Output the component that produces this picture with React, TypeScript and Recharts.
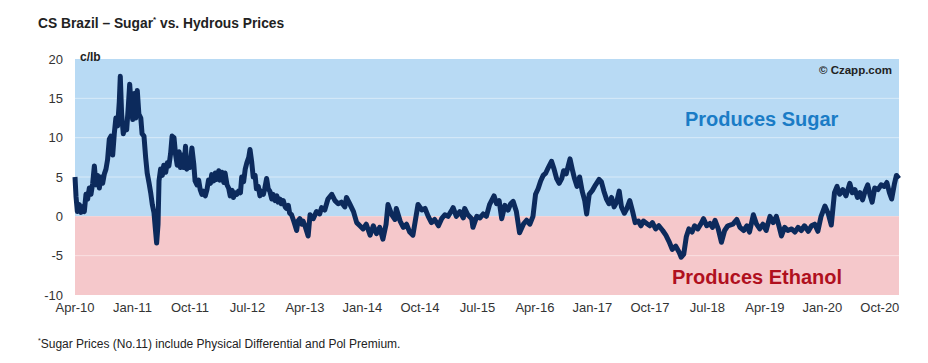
import React from "react"
import { LineChart, Line, XAxis, YAxis, ReferenceArea, ReferenceLine } from "recharts"

// month offsets from Apr-10 (fractional, weekly-ish reads) and sugar-minus-hydrous spread in c/lb
const monthIdx = [
  0, 0.16, 0.37, 0.68, 0.94, 1.2, 1.46, 1.72, 1.98, 2.24, 2.5, 2.77, 3.03, 3.29, 3.55, 3.81, 4.07, 4.33, 4.6, 4.85,
  5.1, 5.37, 5.63, 5.9, 6.15, 6.4, 6.68, 6.93, 7.09, 7.3, 7.56, 7.82, 8.09, 8.35, 8.56, 8.76, 9.03, 9.28, 9.5, 9.75,
  10.0, 10.3, 10.5, 10.8, 11.06, 11.3, 11.6, 11.85, 12.1, 12.36, 12.57, 12.78, 13.0, 13.15, 13.4, 13.67, 13.9, 14.2, 14.45, 14.7,
  14.97, 15.2, 15.5, 15.75, 16.0, 16.3, 16.5, 16.8, 17.06, 17.3, 17.5, 17.8, 18.0, 18.3, 18.6, 18.8, 19.1, 19.36, 19.6, 19.87,
  20.1, 20.4, 20.66, 20.9, 21.2, 21.4, 21.7, 21.96, 22.2, 22.5, 22.7, 23.0, 23.3, 23.5, 23.8, 24.05, 24.3, 24.6, 24.8, 25.1,
  25.35, 25.6, 25.9, 26.1, 26.4, 26.65, 26.9, 27.2, 27.4, 27.65, 27.9, 28.2, 28.4, 28.7, 28.95, 29.2, 29.5, 29.7, 30.0, 30.25,
  30.5, 30.8, 31.0, 31.3, 31.6, 31.8, 32.1, 32.3, 32.6, 32.9, 33.1, 33.4, 33.6, 33.9, 34.2, 34.4, 34.7, 34.9, 35.2, 35.5,
  35.7, 36.0, 36.5, 36.8, 37.3, 37.8, 38.3, 38.6, 39.1, 39.6, 40.2, 40.7, 41.2, 41.7, 42.25, 42.5, 43.0, 43.6, 44.1, 44.6,
  45.1, 45.6, 46.2, 46.7, 47.2, 47.7, 48.2, 48.7, 49.0, 49.6, 50.1, 50.3, 50.9, 51.4, 51.9, 52.4, 52.9, 53.7, 54.3, 54.8,
  55.3, 55.8, 56.3, 56.9, 57.4, 57.9, 58.4, 59.0, 59.2, 59.7, 60.25, 60.8, 61.0, 61.5, 62.1, 62.3, 62.9, 63.4, 63.9, 64.4,
  64.9, 65.6, 66.0, 66.4, 66.8, 67.3, 67.8, 68.2, 68.6, 69.1, 69.6, 70.2, 70.7, 71.2, 71.7, 72.1, 72.5, 72.9, 73.3, 73.7,
  74.1, 74.6, 75.0, 75.4, 75.8, 76.2, 76.5, 76.9, 77.5, 77.9, 78.2, 78.6, 79.0, 79.4, 79.8, 80.1, 80.5, 81.0, 81.5, 82.05,
  82.4, 82.8, 83.2, 83.6, 84.0, 84.4, 84.8, 85.2, 85.55, 86.0, 86.4, 86.85, 87.3, 87.7, 88.2, 88.6, 89.0, 89.5, 90.0, 90.4,
  90.9, 91.4, 92.0, 92.5, 93.0, 93.5, 94.05, 94.6, 94.9, 95.3, 95.7, 96.1, 96.6, 97.0, 97.5, 98.1, 98.4, 98.9, 99.4, 99.8,
  100.2, 100.7, 101.2, 101.7, 102.2, 103.0, 103.6, 104.1, 104.7, 105.2, 105.6, 106.2, 106.7, 107.2, 107.7, 108.2, 108.8, 109.3, 109.8, 110.2,
  110.6, 111.1, 111.6, 112.2, 112.7, 113.2, 113.7, 114.2, 114.8, 115.3, 115.8, 116.3, 116.8, 117.4, 117.9, 118.4, 118.9, 119.3, 119.7, 120.2,
  120.7, 121.3, 121.7, 122.1, 122.5, 122.9, 123.3, 123.7, 124.1, 124.5, 124.8, 125.2, 125.7, 126.2, 126.7, 127.1, 127.5, 127.85, 128.3, 128.6,
  129.0,
]

const spread = [
  5.0, 2.5, 0.6, 1.5, 0.5, 1.2, 0.6, 2.8, 2.2, 3.6, 2.8, 4.2, 6.4, 4.0, 5.2, 3.6, 5.0, 4.2, 5.4, 6.0,
  7.2, 9.8, 10.2, 7.8, 10.5, 12.5, 11.5, 14.5, 17.8, 13.0, 10.5, 11.5, 11.0, 14.0, 16.8, 14.5, 12.3, 15.6, 12.5, 16.0,
  13.0, 12.5, 10.5, 10.2, 7.5, 5.5, 4.2, 3.0, 1.5, 0.5, -1.5, -3.4, -1.0, 4.5, 6.0, 5.2, 6.5, 5.6, 6.8, 6.4,
  8.0, 10.2, 10.0, 7.8, 6.5, 8.2, 6.2, 7.8, 6.2, 8.9, 6.0, 7.4, 6.2, 8.7, 6.6, 4.5, 4.0, 4.6, 3.4, 2.8,
  3.2, 2.6, 3.4, 4.6, 4.2, 5.3, 4.5, 5.5, 4.7, 5.8, 4.6, 5.6, 4.3, 5.5, 4.0, 3.6, 2.6, 3.3, 2.4, 3.0,
  2.8, 3.2, 3.0, 5.0, 4.4, 6.0, 6.8, 7.5, 8.5, 7.0, 5.0, 5.2, 3.5, 3.8, 2.6, 3.2, 2.8, 3.5, 4.8, 3.5,
  3.2, 2.2, 2.8, 2.0, 2.6, 1.8, 2.2, 1.6, 2.0, 1.2, 1.0, 1.4, 0.4, 0.2, -0.5, -1.0, -1.8, -0.6, -0.3, -1.0,
  -0.6, -1.2, -2.5, 0.2, -0.3, 0.6, 0.3, 1.1, 0.8, 2.2, 2.8, 2.0, 1.6, 1.8, 1.2, 2.4, 1.6, 0.6, -0.8, -1.2,
  -1.6, -1.0, -2.4, -1.2, -2.2, -1.4, -2.9, -1.0, 1.5, 0.2, -0.4, 1.0, -0.6, -1.4, -1.0, -2.0, -2.4, 1.5, 0.8, 1.0,
  0.0, -0.8, -0.4, -1.2, -0.3, 0.2, 0.0, 0.8, 1.1, 0.0, 0.6, -0.2, 1.0, 0.2, -0.3, -1.4, 0.0, -0.2, 0.3, 0.0,
  1.5, 2.6, 1.6, 2.0, -0.3, 1.4, 0.8, 1.6, 1.9, 0.6, -2.1, -1.0, -0.5, -1.0, 0.0, 2.8, 3.5, 4.5, 5.2, 5.5,
  6.2, 7.0, 6.0, 4.8, 4.2, 4.8, 5.8, 5.4, 7.3, 5.8, 4.8, 3.8, 5.0, 3.2, 2.0, 0.3, 2.8, 3.3, 4.0, 4.7,
  4.4, 3.2, 2.2, 1.6, 2.4, 1.2, 1.8, 3.2, 1.2, 0.4, 1.0, 2.0, 0.6, -0.8, -0.6, -1.2, -0.6, -0.9, -1.2, -0.8,
  -1.6, -1.2, -1.8, -2.4, -3.2, -4.2, -3.8, -4.6, -5.2, -4.8, -2.6, -1.6, -2.0, -1.2, -1.6, -0.8, -0.3, -1.2, -0.9, -1.4,
  -0.5, -1.6, -3.3, -1.8, -1.2, -1.0, -0.4, -1.4, -1.8, -1.2, -2.0, 0.2, -1.0, -1.6, -1.0, -1.8, 0.0, -0.8, 0.0, -1.2,
  -2.5, -1.4, -1.8, -1.6, -2.0, -1.4, -1.8, -1.2, -1.9, -1.2, -1.0, -1.9, 0.0, 1.3, 0.4, -1.1, 3.0, 3.8, 2.8, 3.4,
  2.6, 4.2, 3.0, 3.4, 2.4, 3.0, 2.1, 3.2, 4.0, 2.6, 1.8, 3.6, 3.4, 4.0, 3.8, 4.3, 3.0, 2.2, 4.2, 5.2,
  4.8,
]

const xTickIdx = [0, 9, 18, 27, 36, 45, 54, 63, 72, 81, 90, 99, 108, 117, 126]
const xTickLabels = [
  "Apr-10", "Jan-11", "Oct-11", "Jul-12", "Apr-13", "Jan-14", "Oct-14", "Jul-15",
  "Apr-16", "Jan-17", "Oct-17", "Jul-18", "Apr-19", "Jan-20", "Oct-20",
]
const yTicks = [-10, -5, 0, 5, 10, 15, 20]
const gridLevels = [-5, 5, 10, 15]

const data = monthIdx.map((m, i) => ({ m, v: spread[i] }))

const font = '"Liberation Sans", Arial, sans-serif'

export default function App() {
  return (
    <div style={{ position: "absolute", left: 0, top: 0, width: 928, height: 363, background: "#fff", fontFamily: font }}>
      <div style={{ position: "absolute", left: 38, top: 15, fontSize: 13.8, fontWeight: "bold", color: "#222" }}>
        CS Brazil – Sugar<sup style={{ fontSize: 8 }}>*</sup> vs. Hydrous Prices
      </div>

      <LineChart width={928} height={363} data={data} margin={{ top: 59, right: 29, left: 0, bottom: 0 }}>
        <ReferenceArea y1={0} y2={20} fill="#b8daf4" fillOpacity={1} stroke="none" />
        <ReferenceArea y1={-10} y2={0} fill="#f5c8cb" fillOpacity={1} stroke="none" />
        {gridLevels.map((g) => (
          <ReferenceLine key={g} y={g} stroke="#ffffff" strokeOpacity={0.45} strokeWidth={1} />
        ))}
        <XAxis
          dataKey="m"
          type="number"
          domain={[0, 129]}
          ticks={xTickIdx}
          tickFormatter={(v: number) => xTickLabels[xTickIdx.indexOf(v)] ?? ""}
          axisLine={false}
          tickLine={false}
          tickSize={0}
          tickMargin={8}
          height={68}
          interval={0}
          tick={{ fill: "#333", fontSize: 13, fontFamily: font }}
        />
        <YAxis
          domain={[-10, 20]}
          ticks={yTicks}
          axisLine={false}
          tickLine={false}
          tickSize={0}
          tickMargin={12}
          width={75}
          interval={0}
          tick={{ fill: "#333", fontSize: 13, fontFamily: font }}
        />
        <Line
          type="linear"
          dataKey="v"
          stroke="#0c2a5c"
          strokeWidth={5}
          strokeLinejoin="round"
          dot={false}
          isAnimationActive={false}
        />
      </LineChart>

      <div style={{ position: "absolute", left: 80, top: 50, fontSize: 12, fontWeight: "bold", color: "#222" }}>c/lb</div>
      <div style={{ position: "absolute", right: 36, top: 64, fontSize: 11.5, fontWeight: "bold", color: "#222" }}>© Czapp.com</div>
      <div style={{ position: "absolute", left: 685, top: 108, fontSize: 20, fontWeight: "bold", color: "#1a7cc6" }}>
        Produces Sugar
      </div>
      <div style={{ position: "absolute", left: 672, top: 266, fontSize: 20, fontWeight: "bold", color: "#b0101e" }}>
        Produces Ethanol
      </div>
      <div style={{ position: "absolute", left: 38, top: 337, fontSize: 12, color: "#222" }}>
        <sup style={{ fontSize: 7 }}>*</sup>Sugar Prices (No.11) include Physical Differential and Pol Premium.
      </div>
    </div>
  )
}
